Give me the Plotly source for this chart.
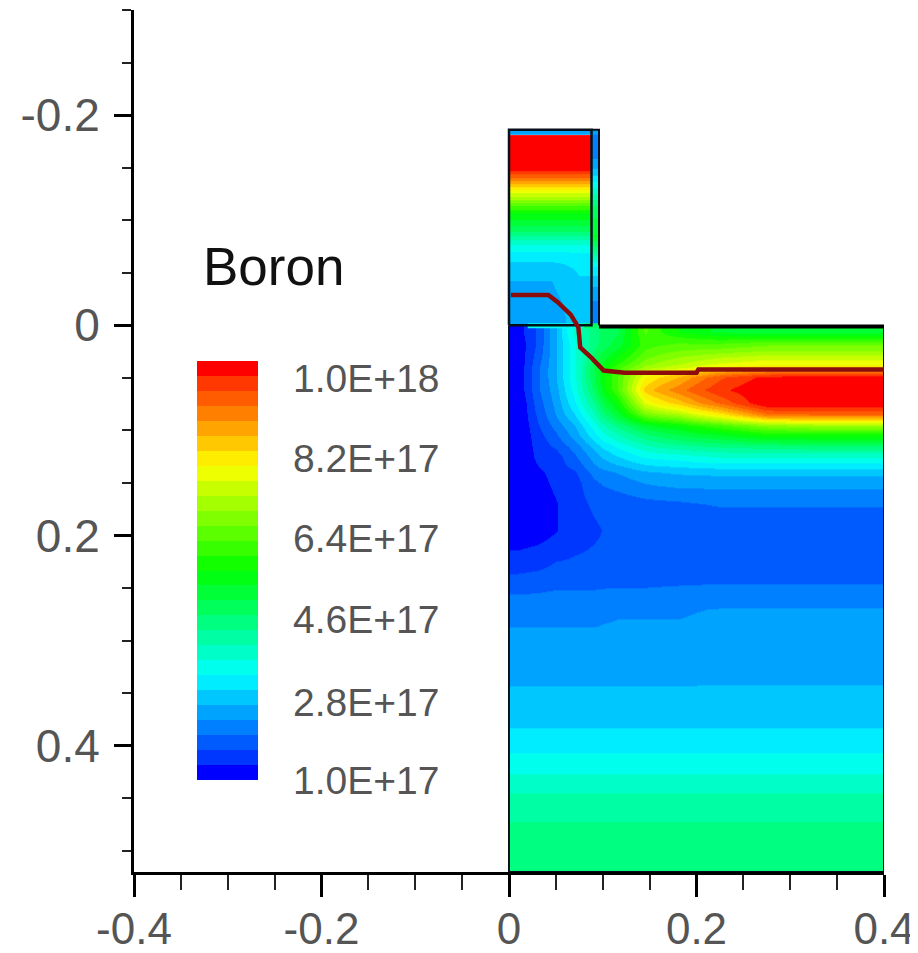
import plotly.graph_objects as go

# --- concentration fields, in units of 1e17 ---
sub_x_edges = [0, .02, .04, .06, .08, .10, .13, .16, .20, .25, .30, .35, .40]
sub_y_edges = [0, .011, .025, .036, .044, .055, .068, .08, .09, .10, .11, .12, .13, .14, .16, .18,
               .21, .25, .29, .33, .37, .40, .43, .46, .49, .52]
sub_z = [
    [1.2, 1.7, 2.6, 3.7, 4.4, 4.8, 6.2, 5.5, 5.1, 5.0, 5.0, 5.0],
    [1.1, 1.7, 2.6, 3.5, 4.4, 5.0, 6.0, 6.2, 6.2, 6.4, 6.4, 6.4],
    [1.1, 1.8, 2.6, 3.5, 4.6, 5.5, 6.4, 6.8, 7.1, 7.3, 7.3, 7.3],
    [1.1, 1.9, 2.6, 3.5, 4.8, 6.0, 6.9, 7.3, 7.8, 8.0, 8.0, 8.0],
    [1.1, 1.9, 2.6, 3.5, 4.8, 6.1, 7.75, 8.4, 9.3, 9.8, 9.9, 9.9],
    [1.1, 1.9, 2.5, 3.4, 4.6, 6.1, 8.2, 8.9, 9.6, 10, 10, 10],
    [1.0, 1.8, 2.4, 3.2, 4.2, 5.5, 7.5, 8.2, 9.1, 10, 10, 10],
    [1.0, 1.7, 2.3, 2.9, 3.8, 5.0, 6.4, 6.9, 7.8, 8.9, 9.0, 9.0],
    [1.0, 1.6, 2.1, 2.6, 3.4, 4.3, 5.1, 5.5, 6.1, 6.7, 6.9, 6.9],
    [1.0, 1.5, 1.9, 2.4, 3.1, 3.8, 4.4, 4.8, 5.1, 5.5, 5.5, 5.5],
    [1.0, 1.45, 1.7, 2.1, 2.7, 3.3, 3.8, 4.1, 4.3, 4.4, 4.5, 4.5],
    [1.0, 1.4, 1.5, 1.9, 2.4, 2.9, 3.3, 3.4, 3.6, 3.6, 3.6, 3.6],
    [1.0, 1.3, 1.5, 1.7, 2.2, 2.5, 2.8, 2.9, 3.0, 3.0, 3.0, 3.0],
    [1.0, 1.2, 1.4, 1.5, 1.9, 2.1, 2.3, 2.4, 2.4, 2.4, 2.4, 2.4],
    [1.0, 1.1, 1.3, 1.5, 1.7, 1.75, 1.85, 1.9, 2.0, 2.0, 2.0, 2.0],
    [1.0, 1.1, 1.3, 1.5, 1.6, 1.7, 1.7, 1.7, 1.75, 1.75, 1.75, 1.75],
    [1.55, 1.6, 1.7, 1.7, 1.7, 1.7, 1.7, 1.75, 1.75, 1.75, 1.75, 1.75],
    [2.2, 2.2, 2.2, 2.2, 2.2, 2.25, 2.25, 2.25, 2.3, 2.3, 2.3, 2.3],
    [2.4, 2.4, 2.4, 2.4, 2.4, 2.4, 2.4, 2.4, 2.45, 2.45, 2.45, 2.45],
    [2.65, 2.65, 2.65, 2.65, 2.65, 2.65, 2.65, 2.65, 2.65, 2.65, 2.65, 2.65],
    [2.95, 2.95, 2.95, 2.95, 2.95, 2.95, 2.95, 2.95, 2.95, 2.95, 2.95, 2.95],
    [3.35, 3.35, 3.35, 3.35, 3.35, 3.35, 3.35, 3.35, 3.35, 3.35, 3.35, 3.35],
    [3.9, 3.9, 3.9, 3.9, 3.9, 3.9, 3.9, 3.9, 3.9, 3.9, 3.9, 3.9],
    [4.25, 4.25, 4.25, 4.25, 4.25, 4.25, 4.25, 4.25, 4.25, 4.25, 4.25, 4.25],
    [4.45, 4.45, 4.45, 4.45, 4.45, 4.45, 4.45, 4.45, 4.45, 4.45, 4.45, 4.45],
]

gate_x_edges = [0, .03, .06, .088]
gate_y_edges = [-.181, -.167, -.152, -.144, -.134, -.124, -.113, -.101, -.09, -.08, -.068,
                -.052, -.033, -.015, 0]
gate_z = [
    [10, 10, 10],
    [10, 10, 10],
    [9.8, 9.8, 9.8],
    [8.9, 8.9, 8.9],
    [7.75, 7.75, 7.75],
    [6.7, 6.7, 6.7],
    [5.5, 5.5, 5.5],
    [4.9, 4.9, 4.9],
    [4.2, 4.2, 4.2],
    [3.4, 3.4, 3.4],
    [2.9, 2.9, 3.0],
    [2.6, 2.6, 2.9],
    [2.5, 2.5, 2.8],
    [2.5, 2.5, 2.7],
]

spacer_x_edges = [.088, .096]
spacer_y_edges = [-.186, -.15, -.125, -.10, -.07, -.04, 0]
spacer_z = [[2.0], [3.2], [4.6], [5.2], [3.2], [2.2]]
cap_x_edges = [0, .096]
cap_y_edges = [-.186, -.181]
cap_z = [[2.4]]
oxide_x_edges = [.02, .08, .096]
oxide_y_edges = [-.002, .003]
oxide_z = [[3.4, 4.6]]

gate_outline_x = [0, 0, .088, .088, 0]
gate_outline_y = [0, -.186, -.186, 0, 0]
spacer_outline_x = [.088, .096, .096]
spacer_outline_y = [-.186, -.186, 0]
surface_x = [.096, .40]
surface_y = [.001, .001]
substrate_x = [0, 0, .40, .40]
substrate_y = [0, .52, .52, .001]

junction_x = [.002, .042, .052, .066, .074, .076, .088, .101, .123, .20, .202, .40]
junction_y = [-.029, -.029, -.022, -.010, .002, .021, .031, .043, .045, .045, .042, .042]

x_ticks = [-0.4, -0.2, 0, 0.2, 0.4]
x_labels = ["-0.4", "-0.2", "0", "0.2", "0.4"]
y_ticks = [-0.2, 0, 0.2, 0.4]
y_labels = ["-0.2", "0", "0.2", "0.4"]

legend_title = "Boron"
legend_labels = ["1.0E+18", "8.2E+17", "6.4E+17", "4.6E+17", "2.8E+17", "1.0E+17"]
legend_label_rows = [378, 458, 538, 620, 702, 780]

# --- style ---
PAGE_INSET = 8          # the page's own body margin
W, H = 918 - PAGE_INSET, 953 - PAGE_INSET
L, R, T, B = 134, 884, 10, 872
N_BANDS = 28
ANCHORS = [(0, 0, 255), (0, 255, 255), (0, 255, 0), (255, 255, 0), (255, 0, 0)]


def rainbow(t):
    s = min(t, 0.9999) * 4
    i = int(s)
    f = s - i
    a, b = ANCHORS[i], ANCHORS[i + 1]
    return "rgb(%d,%d,%d)" % tuple(round(a[k] + (b[k] - a[k]) * f) for k in range(3))


colorscale = []
for n in range(N_BANDS):
    c = rainbow((n + 0.5) / N_BANDS if 0 < n < N_BANDS - 1 else n / (N_BANDS - 1))
    colorscale += [[n / N_BANDS, c], [(n + 1) / N_BANDS, c]]


def px(x):
    return (x - L) / (R - L)


def py(y):
    return (B - y) / (B - T)


fig = go.Figure()

def field(xe, ye, z, **kw):
    fig.add_trace(go.Heatmap(x=xe, y=ye, z=z, zmin=1, zmax=10, colorscale=colorscale,
                             showscale=False, hoverinfo="skip", **kw))

field(sub_x_edges, sub_y_edges, sub_z, zsmooth="best", showlegend=False)
field(gate_x_edges, gate_y_edges, gate_z, zsmooth="best")
field(spacer_x_edges, spacer_y_edges, spacer_z, zsmooth="best")
field(cap_x_edges, cap_y_edges, cap_z)
field(oxide_x_edges, oxide_y_edges, oxide_z)

fig.data[0].update(
    showscale=True,
    colorbar=dict(
        x=px(197), xanchor="left", xpad=0, y=py(570.5), yanchor="middle", ypad=0,
        lenmode="pixels", len=419, thicknessmode="pixels", thickness=61,
        outlinewidth=0, borderwidth=0, ticks="", showticklabels=False,
    ),
)


def line(x, y, color="#05101a", width=2.5):
    fig.add_trace(go.Scatter(x=x, y=y, mode="lines", line=dict(color=color, width=width),
                             showlegend=False, hoverinfo="skip"))


line(gate_outline_x, gate_outline_y)
line(spacer_outline_x, spacer_outline_y, width=2)
line(substrate_x, substrate_y, width=2)
line(surface_x, surface_y, color="#000000", width=4)
line(junction_x, junction_y, color="#8a0c0c", width=4.5)

y_font = dict(family="Liberation Sans", size=46, color="#555555")
x_font = dict(family="Liberation Sans", size=44, color="#555555")
fig.update_layout(
    width=W, height=H, autosize=False,
    margin=dict(l=L - PAGE_INSET, r=W - (R - PAGE_INSET), t=T - PAGE_INSET, b=H - (B - PAGE_INSET),
                pad=0, autoexpand=False),
    paper_bgcolor="white", plot_bgcolor="white",
    showlegend=False,
    xaxis=dict(range=[-0.4, 0.4], tickvals=x_ticks, ticktext=x_labels, tickfont=x_font,
               ticks="outside", ticklen=22, tickwidth=3, tickcolor="black", ticklabelstandoff=-6,
               showline=True, linewidth=3, linecolor="black", showgrid=False, zeroline=False,
               minor=dict(dtick=0.05, ticks="outside", ticklen=15, tickwidth=2, tickcolor="#222222",
                          showgrid=False)),
    yaxis=dict(range=[0.52, -0.30], tickvals=y_ticks, ticktext=y_labels, tickfont=y_font,
               ticks="outside", ticklen=17, tickwidth=3, tickcolor="black", ticklabelstandoff=5,
               showline=True, linewidth=3, linecolor="black", showgrid=False, zeroline=False,
               minor=dict(dtick=0.05, ticks="outside", ticklen=9, tickwidth=2, tickcolor="#222222",
                          showgrid=False)),
)

fig.add_annotation(text=legend_title, xref="paper", yref="paper", x=px(273), y=py(267),
                   showarrow=False, xanchor="center", yanchor="middle",
                   font=dict(family="Liberation Sans", size=53, color="#111111"))
for label, row in zip(legend_labels, legend_label_rows):
    fig.add_annotation(text=label, xref="paper", yref="paper", x=px(441), y=py(row),
                       showarrow=False, xanchor="right", yanchor="middle",
                       font=dict(family="Liberation Sans", size=39, color="#555555"))

fig.write_html("out.html")
